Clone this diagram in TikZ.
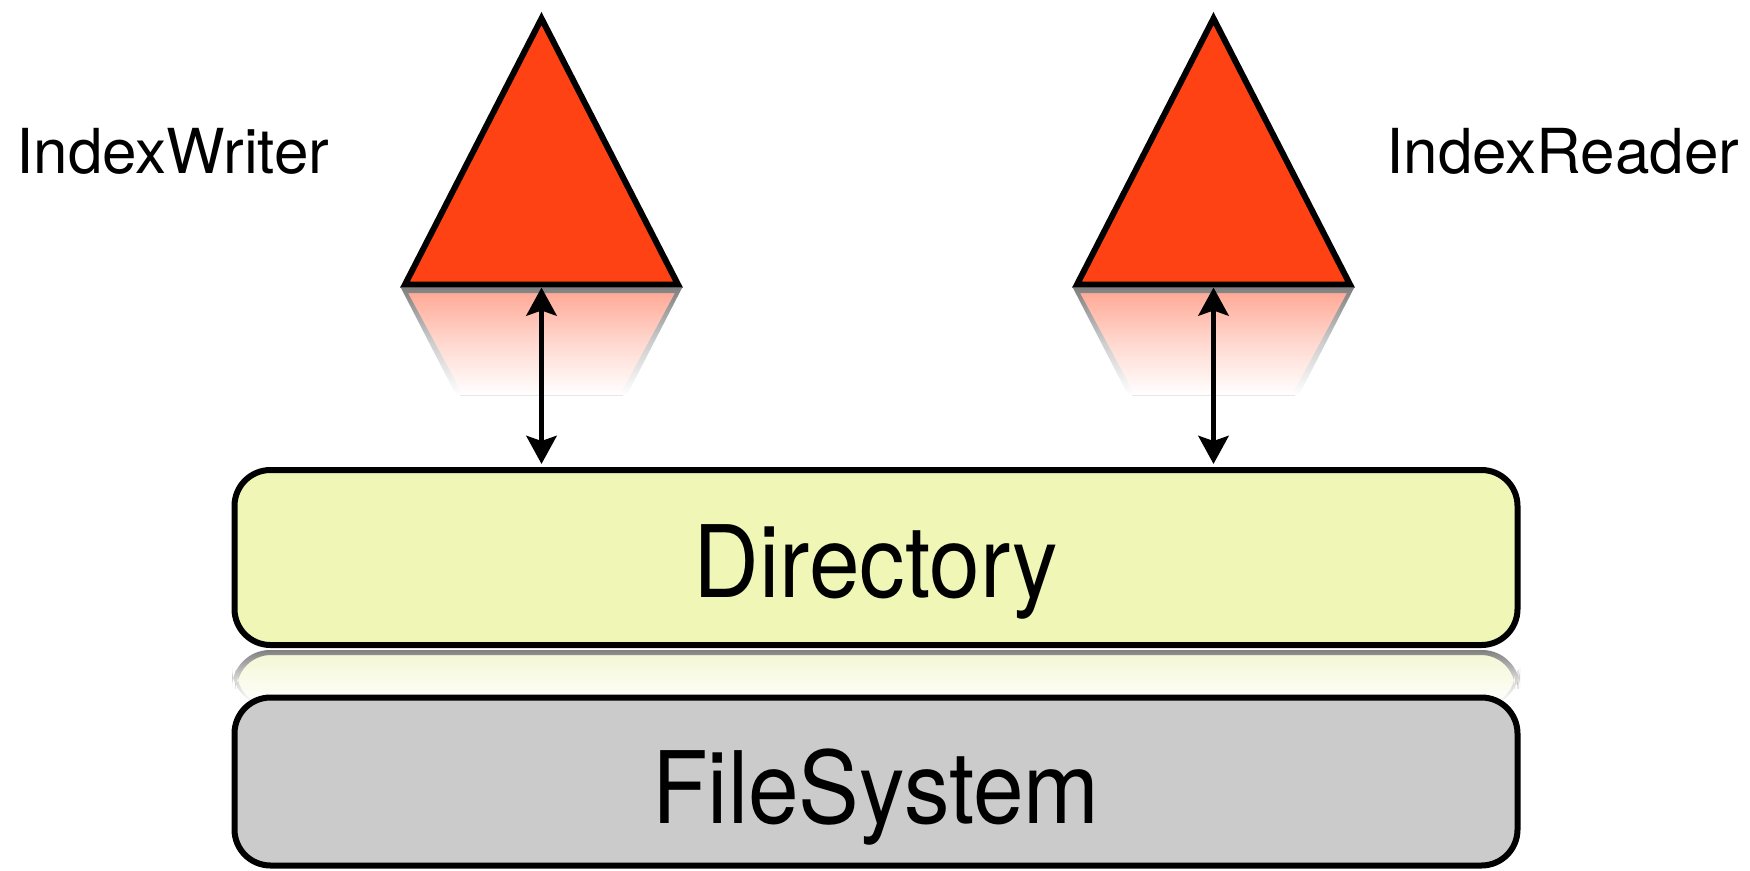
\documentclass[tikz,border=0pt]{standalone}
\usepackage{fontspec}
\newfontfamily\labelfont{TeX Gyre Heros}
\newfontfamily\boxfont[FakeStretch=0.91]{TeX Gyre Heros}
\usetikzlibrary{arrows.meta}

\definecolor{conefill}{RGB}{255,66,20}
\definecolor{conemirror}{RGB}{255,166,146}
\definecolor{dirfill}{RGB}{240,246,182}
\definecolor{dirmirror}{RGB}{244,247,212}
\definecolor{fsfill}{RGB}{203,203,203}
\definecolor{mirroredge}{RGB}{128,128,128}

\tikzset{
  cone/.style={draw=black, line width=6pt, fill=conefill, line join=miter},
  layer/.style={draw=black, line width=6pt, rounded corners=36pt,
                minimum width=1283pt, inner sep=0pt},
  layertext/.style={font=\boxfont\fontsize{100}{100}\selectfont, anchor=base, inner sep=0pt},
  sidetext/.style={font=\labelfont\fontsize{62}{62}\selectfont, anchor=base, inner sep=0pt},
  link/.style={line width=5.5pt,
    {Stealth[length=28pt,width=30pt,inset=5pt]}-{Stealth[length=28pt,width=30pt,inset=5pt]}},
}

\begin{document}
\begin{tikzpicture}[x=1pt, y=-1pt]
\useasboundingbox (0,0) rectangle (1750,870);

% mirrored images under the two cones
\foreach \dx in {0,672} {
  \begin{scope}[xshift=\dx pt]
    \fill[top color=conemirror, bottom color=white, middle color=conemirror!45!white]
      (405,288) -- (678,288) -- (623,395) -- (460,395) -- cycle;
    \path[top color=mirroredge, bottom color=white, middle color=mirroredge!40!white, even odd rule]
      (401,288) -- (682,288) -- (627,395) -- (456,395) -- cycle
      (408,293) -- (675,293) -- (620,395) -- (463,395) -- cycle;
  \end{scope}
}

% mirrored image under the Directory layer
\fill[top color=dirmirror, bottom color=white, rounded corners=36pt]
  (235,706) -- (235,653) -- (1518,653) -- (1518,706) -- cycle;
\path[top color=mirroredge, bottom color=white, middle color=mirroredge!35!white, even odd rule]
  {[rounded corners=38pt] (232,706) -- (232,650) -- (1520,650) -- (1520,706) -- cycle}
  {[rounded corners=34pt] (237,706) -- (237,655) -- (1515,655) -- (1515,706) -- cycle};

% the two layers
\node[layer, fill=dirfill, minimum height=175pt] (dir) at (876,557.5) {};
\node[layer, fill=fsfill, minimum height=168pt] (fs) at (876,781.5) {};
\node[layertext] (dirtext) at ([yshift=-40pt]dir.center) {Directory};
\node[layertext] (fstext) at ([yshift=-42pt]fs.center) {FileSystem};

% the two cones
\draw[cone] (405,284.5) -- (541.5,18.5) -- (678,284.5) -- cycle;
\coordinate (wbase) at (541.5,284.5);
\draw[cone] (1077,284.5) -- (1213.5,18.5) -- (1350,284.5) -- cycle;
\coordinate (rbase) at (1213.5,284.5);

% links between cones and the Directory layer
\draw[link, shorten <=3pt, shorten >=3pt] (wbase) -- (wbase |- dir.north);
\draw[link, shorten <=3pt, shorten >=3pt] (rbase) -- (rbase |- dir.north);

% labels
\node[sidetext] (writer) at (173,173) {IndexWriter};
\node[sidetext] (reader) at (1563,173) {IndexReader};
\end{tikzpicture}
\end{document}
